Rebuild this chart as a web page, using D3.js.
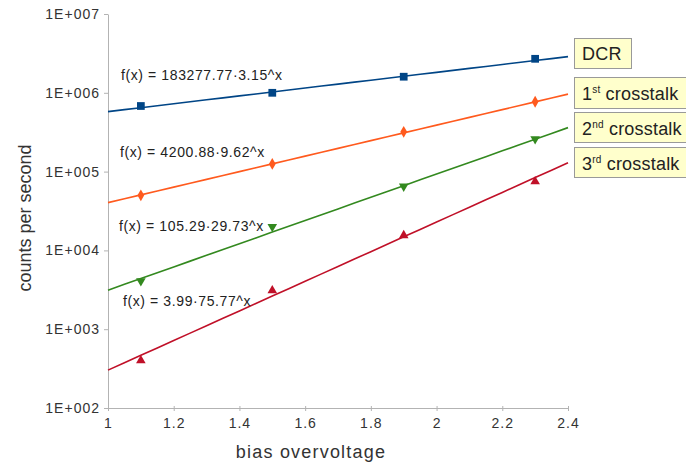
<!DOCTYPE html>
<html>
<head>
<meta charset="utf-8">
<script src="https://cdn.jsdelivr.net/npm/d3@7"></script>
<style>
  body { margin: 0; background: #fff; }
  svg text { font-family: "Liberation Sans", Arial, sans-serif; }
</style>
</head>
<body>
<div id="chart"></div>
<script>
// data
const voltages = [1.1, 1.5, 1.9, 2.3];
const dcr = [680000, 1000000, 1600000, 2700000];
const xt1 = [50000, 125000, 320000, 770000];
const xt2 = [4100, 20000, 65000, 260000];
const xt3 = [400, 3100, 15500, 75000];

// fitted trend lines a*b^x
const fits = [[183277.77, 3.15], [4200.88, 9.62], [105.29, 29.73], [3.99, 75.77]];
const fitLabels = ["f(x) = 183277.77·3.15^x", "f(x) = 4200.88·9.62^x", "f(x) = 105.29·29.73^x", "f(x) = 3.99·75.77^x"];
const seriesNames = [["DCR", ""], ["1", "st"], ["2", "nd"], ["3", "rd"]];

const xTicks = [1, 1.2, 1.4, 1.6, 1.8, 2, 2.2, 2.4];
const yTicks = [1e2, 1e3, 1e4, 1e5, 1e6, 1e7];
const yTickLabels = ["1E+002", "1E+003", "1E+004", "1E+005", "1E+006", "1E+007"];

const FRAME_WIDTH = 686;
const FRAME_HEIGHT = 472;
const MARGINS = {left: 108, right: 118, top: 14, bottom: 64};

const colors = ["#004586", "#ff5a1e", "#33891f", "#c01028"];
const symbols = [d3.symbolSquare, d3.symbolDiamond, "down", d3.symbolTriangle];

const svg = d3.select("#chart")
  .append("svg")
    .attr("width", FRAME_WIDTH)
    .attr("height", FRAME_HEIGHT);

const x = d3.scaleLinear()
  .domain([1, 2.4])
  .range([MARGINS.left, FRAME_WIDTH - MARGINS.right]);

const y = d3.scaleLog()
  .domain([1e2, 1e7])
  .range([FRAME_HEIGHT - MARGINS.bottom, MARGINS.top]);

// axes
const xAxis = d3.axisBottom(x).tickValues(xTicks).tickSize(5).tickSizeOuter(0)
  .tickFormat(d => d3.format("")(d));
const yAxis = d3.axisLeft(y).tickValues(yTicks).tickSize(5).tickSizeOuter(0)
  .tickFormat((d, i) => yTickLabels[i]);

const gx = svg.append("g")
  .attr("transform", "translate(0," + (FRAME_HEIGHT - MARGINS.bottom) + ")")
  .call(xAxis);
gx.selectAll("text").attr("font-size", 14).attr("letter-spacing", 1)
  .attr("fill", "#333").attr("dy", "0.85em");

const gy = svg.append("g")
  .attr("transform", "translate(" + MARGINS.left + ",0)")
  .call(yAxis);
gy.selectAll("text").attr("font-size", 14).attr("letter-spacing", 1)
  .attr("fill", "#333").attr("x", -8);

svg.selectAll(".domain").attr("stroke", "#b3b3b3");
svg.selectAll(".tick line").attr("stroke", "#b3b3b3");
gx.selectAll(".tick line").attr("y1", -2).attr("y2", 3);
gy.selectAll(".tick line").attr("x1", -4).attr("x2", 0);

// axis titles
svg.append("text")
  .attr("x", 311)
  .attr("y", 458)
  .attr("text-anchor", "middle")
  .attr("font-size", 18)
  .attr("letter-spacing", 1.2)
  .attr("fill", "#333")
  .text("bias overvoltage");

svg.append("text")
  .attr("transform", "translate(31,218) rotate(-90)")
  .attr("text-anchor", "middle")
  .attr("font-size", 18)
  .attr("fill", "#333")
  .text("counts per second");

// trend lines
const lineX = d3.range(0, 29).map(i => 1 + i * 0.05);
const line = d3.line().x(d => x(d[0])).y(d => y(d[1]));

fits.forEach((f, i) => {
  svg.append("path")
    .datum(lineX.map(v => [v, f[0] * Math.pow(f[1], v)]))
    .attr("fill", "none")
    .attr("stroke", colors[i])
    .attr("stroke-width", 1.6)
    .attr("d", line);
});

// points
const allSeries = [dcr, xt1, xt2, xt3];
allSeries.forEach((vals, i) => {
  const sym = symbols[i] === "down" ? d3.symbolTriangle : symbols[i];
  const size = i === 0 ? 60 : 40;
  svg.append("g").selectAll("path")
    .data(vals)
    .enter()
    .append("path")
      .attr("d", d3.symbol().type(sym).size(size))
      .attr("transform", (d, j) => "translate(" + x(voltages[j]) + "," + y(d) + ")" + (symbols[i] === "down" ? " rotate(180)" : ""))
      .attr("fill", colors[i]);
});

// fit equations
const eqPos = [[121, 80], [120, 157], [119, 231], [123, 306]];
fitLabels.forEach((t, i) => {
  svg.append("text")
    .attr("x", eqPos[i][0])
    .attr("y", eqPos[i][1])
    .attr("font-size", 14)
    .attr("letter-spacing", 0.6)
    .attr("fill", "#222")
    .text(t);
});

// series labels
const boxes = [[574, 38, 57, 30], [574, 77, 112, 31], [574, 112, 112, 30], [574, 147, 112, 30]];
seriesNames.forEach((n, i) => {
  const b = boxes[i];
  svg.append("rect")
    .attr("x", b[0] + 0.5).attr("y", b[1] + 0.5)
    .attr("width", b[2]).attr("height", b[3])
    .attr("fill", "#ffffcc")
    .attr("stroke", "#999");
  const t = svg.append("text")
    .attr("x", b[0] + 8)
    .attr("y", b[1] + (i === 0 ? 22 : 23))
    .attr("font-size", 18)
    .attr("letter-spacing", 0.2)
    .attr("fill", "#222");
  t.append("tspan").text(n[0]);
  if (n[1]) {
    t.append("tspan").attr("font-size", 10).attr("dy", -7).text(n[1]);
    t.append("tspan").attr("dy", 7).text(" crosstalk");
  }
});
</script>
</body>
</html>
